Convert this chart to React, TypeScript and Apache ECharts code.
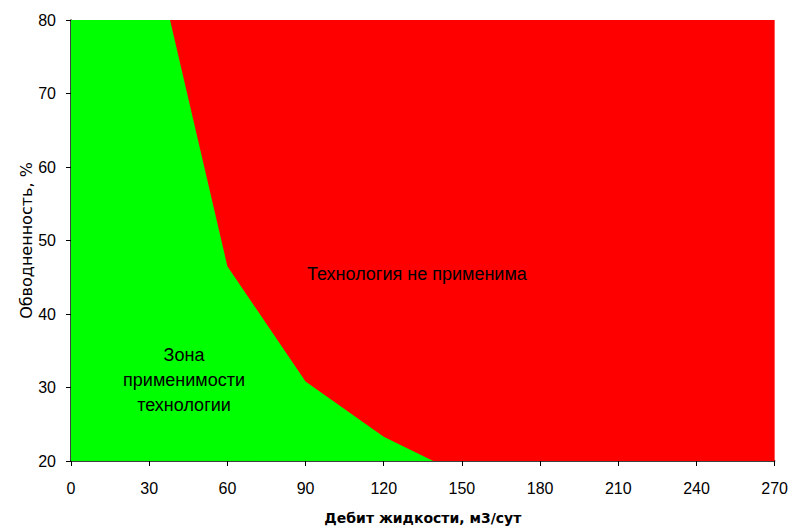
import React, { useEffect, useRef } from "react";
import * as echarts from "echarts";

const xTicks = [0, 30, 60, 90, 120, 150, 180, 210, 240, 270];
const boundaryX = [0, 38, 60, 90, 120, 139];
const boundaryY = [80, 80, 46.5, 30.8, 23.3, 20];
const fullX = [0, 270];
const fullY = [80, 80];
const zoneOkLabel = "Зона\nприменимости\nтехнологии";
const zoneBadLabel = "Технология не применима";

export default function App() {
  const ref = useRef<HTMLDivElement>(null);
  useEffect(() => {
    if (!ref.current) return;
    const chart = echarts.init(ref.current, undefined, { renderer: "svg" });
    const font = "'Liberation Sans', Arial, sans-serif";
    const wide = "'DejaVu Sans', sans-serif";
    chart.setOption({
      animation: false,
      backgroundColor: "#ffffff",
      grid: { left: 71, right: 15, top: 20, bottom: 68 },
      xAxis: {
        type: "value",
        min: xTicks[0],
        max: xTicks[xTicks.length - 1],
        interval: 30,
        name: "Дебит жидкости, м3/сут",
        nameLocation: "middle",
        nameGap: 50,
        nameMoveOverlap: false,
        nameTextStyle: { fontFamily: wide, fontSize: 14, fontWeight: "bold", color: "#000" },
        axisLine: { show: true, lineStyle: { color: "#000", width: 1.5 } },
        axisTick: { show: true, length: 5, lineStyle: { color: "#000" } },
        axisLabel: { fontFamily: font, fontSize: 16, color: "#000", margin: 19 },
        splitLine: { show: false },
      },
      yAxis: {
        type: "value",
        min: 20,
        max: 80,
        interval: 10,
        name: "Обводненность, %",
        nameLocation: "middle",
        nameGap: 37,
        nameMoveOverlap: false,
        nameTextStyle: { fontFamily: wide, fontSize: 16, color: "#000" },
        axisLine: { show: true, lineStyle: { color: "#000", width: 1.5 } },
        axisTick: { show: true, length: 5, lineStyle: { color: "#000" } },
        axisLabel: { fontFamily: font, fontSize: 16, color: "#000", margin: 15 },
        splitLine: { show: false },
      },
      series: [
        {
          type: "line",
          data: fullX.map((x, i) => [x, fullY[i]]),
          symbol: "none",
          lineStyle: { width: 0 },
          areaStyle: { color: "#ff0000", opacity: 1, origin: "start" },
          z: 1,
        },
        {
          type: "line",
          data: boundaryX.map((x, i) => [x, boundaryY[i]]),
          symbol: "none",
          lineStyle: { width: 0 },
          areaStyle: { color: "#00ff00", opacity: 1, origin: "start" },
          z: 2,
        },
      ],
      graphic: [
        {
          type: "text",
          left: 307,
          top: 265,
          z: 10,
          style: { text: zoneBadLabel, fontFamily: font, fontSize: 18, fill: "#000" },
        },
        {
          type: "text",
          x: 184,
          y: 342,
          z: 10,
          style: {
            text: zoneOkLabel,
            fontFamily: font,
            fontSize: 18,
            lineHeight: 25,
            fill: "#000",
            align: "center",
          },
        },
      ],
    });
    return () => chart.dispose();
  }, []);
  return (
    <div
      ref={ref}
      style={{ position: "fixed", left: 0, top: 0, width: 791, height: 530 }}
    />
  );
}
